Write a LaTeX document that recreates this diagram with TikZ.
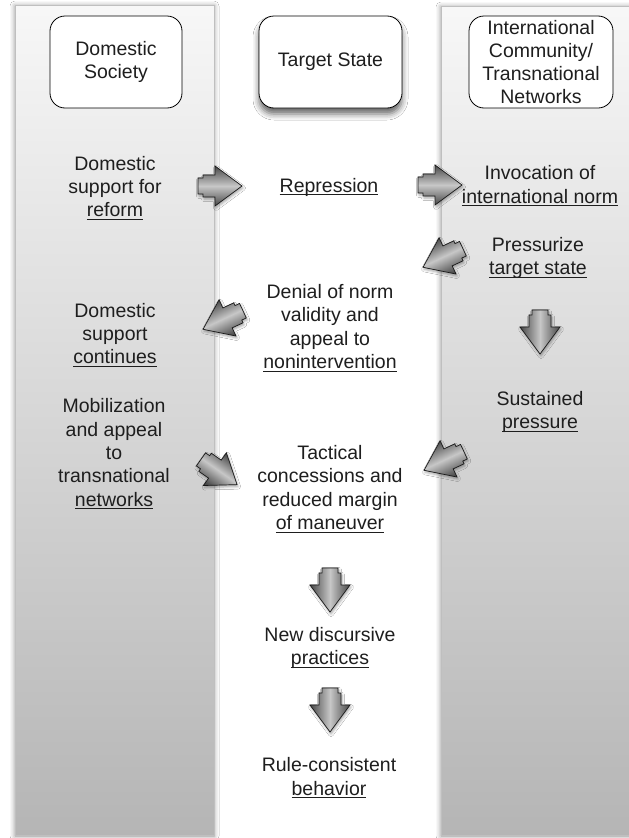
\documentclass[tikz,border=0pt]{standalone}
\usepackage{fontspec}
\setmainfont{Liberation Sans}
\usetikzlibrary{shadows.blur}

\definecolor{inktext}{HTML}{1E1E1E}
\newcommand\undl[1]{\sbox0{#1}\rlap{\rule[-3.3pt]{\wd0}{0.9pt}}\usebox0}

\tikzset{
  lane/.style={draw=black!25, line width=0.4pt, shading=axis,
    top color=black!3, bottom color=black!29,
    blur shadow={shadow xshift=0pt, shadow yshift=-1pt,
      shadow blur radius=5pt, shadow opacity=45}},
  headbox/.style={draw=black, line width=0.8pt, fill=white,
    rounded corners=15pt, align=center, text=inktext,
    font=\fontsize{19.5}{23.3}\selectfont},
  txt/.style={align=center, text=inktext, inner sep=0pt,
    font=\fontsize{19.5}{23.3}\selectfont},
  arrowbody/.style={draw=black!90, line width=0.7pt, shading=axis,
    top color=black!72, bottom color=black!72, middle color=black!22,
    blur shadow={shadow xshift=1pt, shadow yshift=-2pt,
      shadow blur radius=2.5pt, shadow opacity=35}},
  pics/blockarr/.style={code={
    \path[arrowbody, shading angle=#1] (-5,11) -- (-17,11) -- (-17,8)
      -- (-22,8) -- (-22,-8) -- (-17,-8) -- (-17,-11) -- (-5,-11)
      -- (-5,-20) -- (22,0) -- (-5,20) -- cycle;
  }}
}

\begin{document}
\begin{tikzpicture}[x=1pt,y=-1pt]
\useasboundingbox (0,0) rectangle (629,838);
\fill[white] (0,0) rectangle (629,838);
% three lanes
\path[lane] (15,5) rectangle (214,835);
\path[lane] (441,6) rectangle (645,835);

\node[headbox, minimum width=132pt, minimum height=92pt] (dom) at (116,62) {Domestic\\Society};
\node[headbox, minimum width=143pt, minimum height=92pt,
  blur shadow={shadow xshift=0pt, shadow yshift=-6pt, shadow blur radius=6pt, shadow opacity=60}]
  (tgt) at (330.5,62) {Target State};
\node[headbox, minimum width=144pt, minimum height=92pt, inner sep=0pt] (intl) at (541,62)
  {International\\Community/\\Transnational\\Networks};

% steps
\node[txt] (dsup) at (115,188) {Domestic\\support for\\\undl{reform}};
\node[txt] (repr) at (329,187) {\undl{Repression}};
\node[txt] (invoc) at (540,186) {Invocation of\\\undl{international norm}};
\node[txt] (press) at (538,258) {Pressurize\\\undl{target state}};
\node[txt] (denial) at (330,328) {Denial of norm\\validity and\\appeal to\\\undl{nonintervention}};
\node[txt] (dcont) at (115,335) {Domestic\\support\\\undl{continues}};
\node[txt] (sustain) at (540,412) {Sustained\\\undl{pressure}};
\node[txt] (mobil) at (114,454) {Mobilization\\and appeal\\to\\transnational\\\undl{networks}};
\node[txt] (tact) at (330,489) {Tactical\\concessions and\\reduced margin\\\undl{of maneuver}};
\node[txt] (newdisc) at (330,648) {New discursive\\\undl{practices}};
\node[txt] (rulec) at (329,778) {Rule-consistent\\\undl{behavior}};

% block arrows
\pic (arA) at (220,186) {blockarr=0};
\pic (arB) at (440,185) {blockarr=0};
\pic[rotate=205] (arC) at (443,258) {blockarr=205};
\pic[rotate=-90] (arD) at (540,332) {blockarr=-90};
\pic[rotate=205] (arE) at (223,320) {blockarr=205};
\pic[rotate=-35] (arF) at (219,472) {blockarr=-35};
\pic[rotate=205] (arG) at (444,461) {blockarr=205};
\pic[rotate=-90] (arH) at (330,590) {blockarr=-90};
\pic[rotate=-90] (arI) at (330,710) {blockarr=-90};
\end{tikzpicture}
\end{document}
